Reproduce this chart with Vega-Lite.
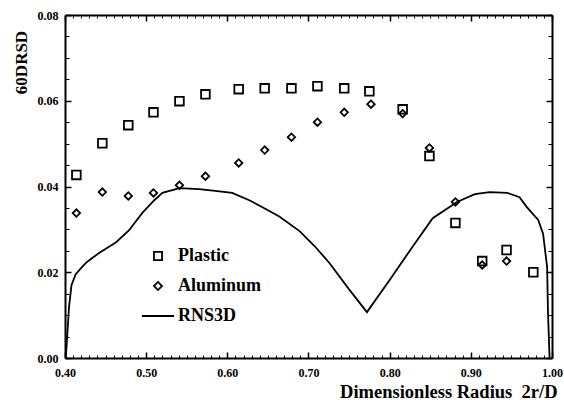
{
  "$schema": "https://vega.github.io/schema/vega-lite/v6.json",
  "width": 487,
  "height": 343,
  "autosize": {"type": "none"},
  "padding": {"left": 65, "top": 15, "right": 12, "bottom": 42},
  "background": "white",
  "config": {
    "view": {"stroke": null},
    "font": "Liberation Serif",
    "axis": {"grid": false, "labelFlush": false, "domainColor": "black", "tickColor": "black", "labelColor": "black", "titleColor": "black", "labelFont": "Liberation Serif", "labelFontWeight": "bold", "labelFontSize": 12, "titleFont": "Liberation Serif", "titleFontWeight": "bold"}
  },
  "datasets": {
    "pts": [
      {"r": 0.414, "v": 0.0427, "series": "Plastic"},
      {"r": 0.446, "v": 0.0501, "series": "Plastic"},
      {"r": 0.478, "v": 0.0543, "series": "Plastic"},
      {"r": 0.509, "v": 0.0573, "series": "Plastic"},
      {"r": 0.541, "v": 0.0599, "series": "Plastic"},
      {"r": 0.573, "v": 0.0615, "series": "Plastic"},
      {"r": 0.614, "v": 0.0627, "series": "Plastic"},
      {"r": 0.646, "v": 0.0629, "series": "Plastic"},
      {"r": 0.679, "v": 0.0629, "series": "Plastic"},
      {"r": 0.711, "v": 0.0634, "series": "Plastic"},
      {"r": 0.744, "v": 0.0629, "series": "Plastic"},
      {"r": 0.775, "v": 0.0622, "series": "Plastic"},
      {"r": 0.816, "v": 0.0580, "series": "Plastic"},
      {"r": 0.849, "v": 0.0471, "series": "Plastic"},
      {"r": 0.881, "v": 0.0315, "series": "Plastic"},
      {"r": 0.914, "v": 0.0226, "series": "Plastic"},
      {"r": 0.944, "v": 0.0252, "series": "Plastic"},
      {"r": 0.977, "v": 0.0200, "series": "Plastic"},
      {"r": 0.414, "v": 0.0338, "series": "Aluminum"},
      {"r": 0.446, "v": 0.0387, "series": "Aluminum"},
      {"r": 0.478, "v": 0.0378, "series": "Aluminum"},
      {"r": 0.509, "v": 0.0385, "series": "Aluminum"},
      {"r": 0.541, "v": 0.0403, "series": "Aluminum"},
      {"r": 0.573, "v": 0.0424, "series": "Aluminum"},
      {"r": 0.614, "v": 0.0455, "series": "Aluminum"},
      {"r": 0.646, "v": 0.0485, "series": "Aluminum"},
      {"r": 0.679, "v": 0.0515, "series": "Aluminum"},
      {"r": 0.711, "v": 0.0550, "series": "Aluminum"},
      {"r": 0.744, "v": 0.0573, "series": "Aluminum"},
      {"r": 0.777, "v": 0.0592, "series": "Aluminum"},
      {"r": 0.816, "v": 0.0570, "series": "Aluminum"},
      {"r": 0.849, "v": 0.0490, "series": "Aluminum"},
      {"r": 0.881, "v": 0.0364, "series": "Aluminum"},
      {"r": 0.914, "v": 0.0217, "series": "Aluminum"},
      {"r": 0.944, "v": 0.0226, "series": "Aluminum"}
    ],
    "cfd": [
      {"r": 0.401, "v": 0.0},
      {"r": 0.403, "v": 0.006},
      {"r": 0.405, "v": 0.012},
      {"r": 0.408, "v": 0.017},
      {"r": 0.413, "v": 0.0195},
      {"r": 0.42, "v": 0.021},
      {"r": 0.427, "v": 0.0224},
      {"r": 0.442, "v": 0.0245},
      {"r": 0.463, "v": 0.027},
      {"r": 0.479, "v": 0.0298},
      {"r": 0.495, "v": 0.0338},
      {"r": 0.51, "v": 0.0368},
      {"r": 0.52, "v": 0.0385},
      {"r": 0.541, "v": 0.0396},
      {"r": 0.565, "v": 0.0394},
      {"r": 0.585, "v": 0.039},
      {"r": 0.606, "v": 0.0385},
      {"r": 0.627, "v": 0.0368},
      {"r": 0.645, "v": 0.035},
      {"r": 0.664, "v": 0.033},
      {"r": 0.689, "v": 0.0296},
      {"r": 0.708, "v": 0.026},
      {"r": 0.726, "v": 0.0221},
      {"r": 0.75, "v": 0.016},
      {"r": 0.772, "v": 0.0107},
      {"r": 0.8, "v": 0.0182},
      {"r": 0.828, "v": 0.0259},
      {"r": 0.853, "v": 0.0326},
      {"r": 0.883, "v": 0.0364},
      {"r": 0.905, "v": 0.0382},
      {"r": 0.923, "v": 0.0387},
      {"r": 0.945, "v": 0.0385},
      {"r": 0.96, "v": 0.0375},
      {"r": 0.969, "v": 0.0352},
      {"r": 0.983, "v": 0.0322},
      {"r": 0.989, "v": 0.029},
      {"r": 0.994, "v": 0.0212},
      {"r": 0.995, "v": 0.011},
      {"r": 0.997, "v": 0.0}
    ]
  },
  "resolve": {"axis": {"x": "independent", "y": "independent"}},
  "layer": [
    {
      "data": {"name": "pts"},
      "mark": {"type": "point", "filled": false, "color": "black", "strokeWidth": 1.8, "opacity": 1},
      "encoding": {
        "x": {"field": "r", "type": "quantitative", "scale": {"domain": [0.4, 1.0], "nice": false, "zero": false},
          "axis": {"orient": "bottom", "values": [0.4, 0.5, 0.6, 0.7, 0.8, 0.9, 1.0], "format": ".2f", "tickSize": -6, "tickWidth": 1.5, "labelPadding": 15, "domainWidth": 2,
            "title": "Dimensionless Radius\u00a0 2r/D", "titleFontSize": 18.5, "titleAnchor": "end", "titleAlign": "right", "titleX": 492, "titleY": 39, "titleBaseline": "alphabetic"}},
        "y": {"field": "v", "type": "quantitative", "scale": {"domain": [0, 0.08], "nice": false},
          "axis": {"orient": "left", "values": [0, 0.02, 0.04, 0.06, 0.08], "format": ".2f", "tickSize": -6, "tickWidth": 1.5, "labelPadding": 13, "domainWidth": 2,
            "title": "60DRSD", "titleFontSize": 17, "titleAngle": 270, "titleAlign": "center", "titleBaseline": "middle", "titleX": -44, "titleY": 47}},
        "shape": {"field": "series", "type": "nominal",
          "scale": {"domain": ["Plastic", "Aluminum", "RNS3D"], "range": ["square", "diamond", "M -4 0 L 4 0"]},
          "legend": {"title": null, "orient": "none", "legendX": 84, "legendY": 232, "symbolSize": 65, "symbolStrokeColor": "black", "symbolFillColor": "transparent", "symbolStrokeWidth": 1.8, "labelFont": "Liberation Serif", "labelFontWeight": "bold", "labelFontSize": 18, "labelColor": "black", "labelOffset": 11, "rowPadding": 12}},
        "size": {"condition": {"test": "datum.series === 'Aluminum'", "value": 55}, "value": 75}
      }
    },
    {
      "data": {"name": "cfd"},
      "mark": {"type": "line", "color": "black", "strokeWidth": 1.8},
      "encoding": {
        "x": {"field": "r", "type": "quantitative", "scale": {"domain": [0.4, 1.0], "nice": false, "zero": false},
          "axis": {"orient": "top", "values": [0.4, 0.5, 0.6, 0.7, 0.8, 0.9, 1.0], "labels": false, "tickSize": -6, "tickWidth": 1.5, "domainWidth": 2, "title": null}},
        "y": {"field": "v", "type": "quantitative", "scale": {"domain": [0, 0.08], "nice": false},
          "axis": {"orient": "right", "values": [0, 0.02, 0.04, 0.06, 0.08], "labels": false, "tickSize": -6, "tickWidth": 1.5, "domainWidth": 2, "title": null}}
      }
    },
    {
      "data": {"name": "pts"},
      "mark": {"type": "point", "opacity": 0},
      "encoding": {
        "x": {"field": "r", "type": "quantitative", "scale": {"domain": [0.4, 1.0], "nice": false, "zero": false},
          "axis": {"orient": "bottom", "values": [0.41, 0.42, 0.43, 0.44, 0.45, 0.46, 0.47, 0.48, 0.49, 0.51, 0.52, 0.53, 0.54, 0.55, 0.56, 0.57, 0.58, 0.59, 0.61, 0.62, 0.63, 0.64, 0.65, 0.66, 0.67, 0.68, 0.69, 0.71, 0.72, 0.73, 0.74, 0.75, 0.76, 0.77, 0.78, 0.79, 0.81, 0.82, 0.83, 0.84, 0.85, 0.86, 0.87, 0.88, 0.89, 0.91, 0.92, 0.93, 0.94, 0.95, 0.96, 0.97, 0.98, 0.99], "labels": false, "domain": false, "tickSize": -3, "tickWidth": 1, "title": null}},
        "y": {"field": "v", "type": "quantitative", "scale": {"domain": [0, 0.08], "nice": false},
          "axis": {"orient": "left", "values": [0.005, 0.01, 0.015, 0.025, 0.03, 0.035, 0.045, 0.05, 0.055, 0.065, 0.07, 0.075], "labels": false, "domain": false, "tickSize": -4, "tickWidth": 1, "title": null}}
      }
    },
    {
      "data": {"name": "pts"},
      "mark": {"type": "point", "opacity": 0},
      "encoding": {
        "x": {"field": "r", "type": "quantitative", "scale": {"domain": [0.4, 1.0], "nice": false, "zero": false},
          "axis": {"orient": "top", "values": [0.41, 0.42, 0.43, 0.44, 0.45, 0.46, 0.47, 0.48, 0.49, 0.51, 0.52, 0.53, 0.54, 0.55, 0.56, 0.57, 0.58, 0.59, 0.61, 0.62, 0.63, 0.64, 0.65, 0.66, 0.67, 0.68, 0.69, 0.71, 0.72, 0.73, 0.74, 0.75, 0.76, 0.77, 0.78, 0.79, 0.81, 0.82, 0.83, 0.84, 0.85, 0.86, 0.87, 0.88, 0.89, 0.91, 0.92, 0.93, 0.94, 0.95, 0.96, 0.97, 0.98, 0.99], "labels": false, "domain": false, "tickSize": -3, "tickWidth": 1, "title": null}},
        "y": {"field": "v", "type": "quantitative", "scale": {"domain": [0, 0.08], "nice": false},
          "axis": {"orient": "right", "values": [0.005, 0.01, 0.015, 0.025, 0.03, 0.035, 0.045, 0.05, 0.055, 0.065, 0.07, 0.075], "labels": false, "domain": false, "tickSize": -4, "tickWidth": 1, "title": null}}
      }
    }
  ]
}
